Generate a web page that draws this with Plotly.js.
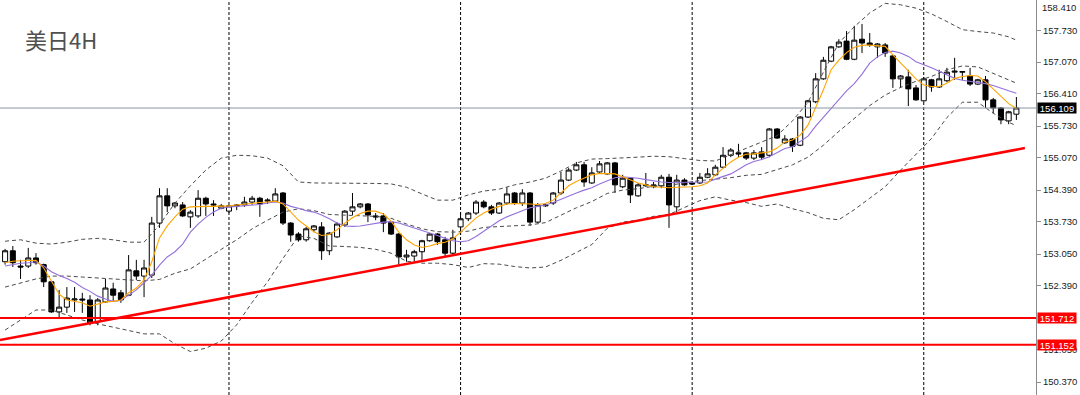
<!DOCTYPE html>
<html>
<head>
<meta charset="utf-8">
<script src="https://cdn.plot.ly/plotly-3.0.1.min.js"></script>
<style>html,body{margin:0;padding:0;background:#fff;}#chart{width:1080px;height:395px;}</style>
</head>
<body>
<div id="chart"></div>
<script>
// ---- Data (USD/JPY, 4H) ----
const openP = [152.89,153.12,152.80,152.80,152.97,152.83,152.47,151.84,151.94,152.09,
152.11,152.09,151.63,152.05,152.32,152.24,152.19,152.70,152.59,152.61,
153.70,154.27,154.06,154.08,153.83,153.85,154.22,154.10,154.01,153.95,
154.08,154.08,154.14,154.22,154.16,154.16,154.33,153.70,153.47,153.35,
153.56,153.62,153.12,153.41,153.66,153.95,154.04,154.10,153.85,153.85,
153.72,153.47,152.99,153.01,153.10,153.33,153.47,153.35,153.07,153.62,
153.79,153.91,154.14,154.04,153.91,154.12,154.33,154.12,154.33,153.72,
154.06,154.12,154.33,154.60,154.81,154.92,154.54,154.77,154.73,154.96,
154.46,154.64,154.27,154.48,154.46,154.48,154.66,154.04,154.60,154.54,
154.54,154.66,154.71,154.87,155.12,155.17,155.17,155.06,155.19,155.12,
155.67,155.38,155.46,155.33,155.92,156.24,156.72,157.09,157.39,157.51,
157.13,157.55,157.47,157.39,157.43,157.20,156.72,156.76,156.53,156.26,
156.70,156.55,156.68,156.86,156.86,156.78,156.61,156.70,156.28,156.11,
155.84,155.98];
const highP = [153.16,153.22,152.93,153.18,153.07,152.85,152.49,152.30,152.36,152.36,
152.24,152.19,152.13,152.53,152.45,152.30,153.03,152.93,152.93,153.83,
154.43,154.43,154.14,154.14,153.97,154.39,154.25,154.18,154.10,154.08,
154.10,154.25,154.27,154.25,154.22,154.43,154.35,153.72,153.51,153.62,
153.66,153.72,153.51,153.72,153.97,154.33,154.12,154.12,153.91,153.91,
153.74,153.49,153.14,153.14,153.35,153.49,153.49,153.41,153.56,153.93,
153.93,154.18,154.18,154.08,154.14,154.45,154.35,154.41,154.35,154.12,
154.12,154.35,154.77,154.85,154.98,154.98,154.87,155.00,154.98,154.98,
154.71,154.66,154.54,154.75,154.56,154.71,154.73,154.71,154.64,154.58,
154.75,154.85,154.92,155.29,155.27,155.36,155.19,155.23,155.29,155.69,
155.69,155.54,155.48,155.94,156.28,156.84,157.18,157.41,157.55,157.72,
157.83,157.87,157.68,157.47,157.47,157.22,156.80,156.91,156.59,156.76,
156.72,156.91,156.95,157.16,156.88,156.95,156.72,156.78,156.32,156.13,
156.05,156.34];
const lowP = [152.83,152.78,152.53,152.76,152.83,152.36,151.82,151.73,151.82,151.84,
151.82,151.56,151.56,152.03,152.05,152.03,152.17,152.51,152.15,152.55,
153.60,153.93,154.01,153.83,153.60,153.81,153.85,153.85,153.99,153.91,
153.97,154.04,154.08,153.83,154.10,154.14,153.66,153.31,153.31,153.31,
153.51,152.93,153.03,153.39,153.62,153.87,154.01,153.72,153.76,153.51,
153.45,152.83,152.89,152.89,152.93,153.31,153.24,152.99,153.03,153.45,
153.74,153.87,154.01,153.87,153.89,154.08,154.08,154.06,153.64,153.70,
154.04,154.08,154.29,154.58,154.79,154.46,154.52,154.73,154.71,154.33,
154.43,154.12,154.25,154.46,154.43,154.43,153.60,153.93,154.48,154.50,
154.52,154.64,154.69,154.85,155.08,155.08,155.02,155.02,155.02,155.08,
155.46,155.36,155.19,155.31,155.90,156.21,156.70,157.07,157.37,157.11,
157.11,157.26,157.39,157.16,157.18,156.53,156.53,156.15,156.26,156.24,
156.45,156.53,156.65,156.70,156.70,156.57,156.59,156.11,156.00,155.77,
155.77,155.86];
const closeP = [153.12,152.87,152.78,152.97,152.87,152.47,151.84,151.94,152.13,152.11,
152.09,151.61,152.09,152.34,152.19,152.09,152.72,152.59,152.76,153.70,
154.27,154.06,154.12,153.85,153.93,154.22,154.10,154.08,154.06,154.06,
154.06,154.14,154.22,154.10,154.18,154.31,153.70,153.45,153.35,153.58,
153.64,153.12,153.49,153.68,153.95,154.04,154.10,153.87,153.83,153.70,
153.47,152.99,153.03,153.10,153.33,153.47,153.31,153.07,153.39,153.79,
153.91,154.14,154.04,153.91,154.12,154.31,154.12,154.33,153.72,154.08,
154.08,154.33,154.60,154.81,154.92,154.56,154.75,154.94,154.96,154.50,
154.64,154.29,154.50,154.50,154.50,154.66,154.08,154.60,154.50,154.52,
154.66,154.73,154.87,155.12,155.23,155.15,155.06,155.17,155.08,155.67,
155.48,155.46,155.31,155.92,156.26,156.72,157.11,157.39,157.49,157.13,
157.53,157.47,157.43,157.45,157.26,156.72,156.78,156.51,156.28,156.72,
156.55,156.72,156.86,156.88,156.87,156.61,156.70,156.28,156.11,155.86,
156.03,156.11];
// fast moving average (orange)
const maFast = [152.87,152.90,152.91,152.92,152.92,152.76,152.47,152.21,152.09,152.06,
152.03,151.96,152.00,152.05,152.06,152.09,152.24,152.34,152.51,152.89,
153.39,153.64,153.83,153.99,154.04,154.05,154.05,154.05,154.05,154.06,
154.08,154.10,154.11,154.13,154.14,154.16,154.10,153.93,153.76,153.64,
153.52,153.44,153.46,153.56,153.70,153.81,153.90,153.95,153.95,153.89,
153.74,153.51,153.35,153.24,153.19,153.22,153.27,153.30,153.37,153.51,
153.66,153.81,153.91,153.99,154.05,154.10,154.11,154.11,154.10,154.09,
154.11,154.18,154.33,154.48,154.57,154.64,154.71,154.74,154.74,154.73,
154.67,154.60,154.54,154.50,154.46,154.45,154.44,154.45,154.45,154.46,
154.48,154.54,154.71,154.85,154.98,155.08,155.14,155.15,155.17,155.19,
155.27,155.40,155.44,155.54,155.75,156.11,156.49,156.91,157.11,157.27,
157.38,157.42,157.43,157.41,157.40,157.22,157.05,156.87,156.72,156.59,
156.56,156.56,156.63,156.73,156.77,156.79,156.78,156.66,156.50,156.36,
156.20,156.10];
// slow moving average (purple)
const maSlow = [152.80,152.83,152.86,152.87,152.89,152.80,152.68,152.60,152.54,152.46,
152.35,152.27,152.17,152.11,152.06,152.08,152.19,152.30,152.45,152.61,
152.82,152.99,153.10,153.26,153.51,153.68,153.82,153.93,154.01,154.04,
154.05,154.06,154.07,154.09,154.12,154.14,154.12,154.05,154.01,153.96,
153.93,153.87,153.79,153.70,153.64,153.63,153.64,153.67,153.70,153.72,
153.73,153.70,153.65,153.60,153.54,153.49,153.44,153.38,153.33,153.31,
153.33,153.42,153.53,153.64,153.75,153.83,153.89,153.96,154.02,154.05,
154.08,154.13,154.20,154.27,154.33,154.39,154.44,154.52,154.59,154.65,
154.67,154.66,154.64,154.61,154.58,154.56,154.55,154.55,154.55,154.55,
154.55,154.56,154.62,154.67,154.73,154.82,154.92,154.99,155.03,155.09,
155.18,155.26,155.30,155.41,155.52,155.73,155.92,156.10,156.30,156.47,
156.62,156.82,157.05,157.18,157.27,157.30,157.26,157.19,157.08,157.02,
156.95,156.88,156.80,156.73,156.69,156.67,156.64,156.62,156.58,156.52,
156.47,156.42];
// Bollinger bands, read every second bar
const bandBars = [0,2,4,6,8,10,12,14,16,18,20,22,24,26,28,30,32,34,36,38,40,42,44,46,48,50,52,54,56,58,
60,62,64,66,68,70,72,74,76,78,80,82,84,86,88,90,92,94,96,98,100,102,104,106,108,110,112,114,116,118,
120,122,124,126,128,130,131];
const bbUpper = [153.32,153.35,153.28,153.26,153.30,153.36,153.38,153.35,153.30,153.30,
153.66,154.12,154.48,154.81,155.06,155.12,155.11,155.06,154.90,154.56,
154.54,154.54,154.54,154.54,154.53,154.52,154.45,154.31,154.18,154.18,
154.29,154.37,154.41,154.50,154.56,154.64,154.79,154.96,155.04,155.05,
155.06,155.08,155.10,155.09,155.05,155.01,155.00,155.13,155.27,155.39,
155.53,155.84,156.23,156.86,157.47,157.81,158.10,158.30,158.27,158.20,
158.08,157.92,157.75,157.71,157.68,157.60,157.53];
const bbMiddle = [152.36,152.45,152.53,152.59,152.59,152.57,152.55,152.53,152.51,152.49,
152.52,152.65,152.74,152.95,153.15,153.35,153.58,153.76,153.93,154.00,
153.96,153.88,153.87,153.86,153.84,153.80,153.68,153.58,153.52,153.51,
153.53,153.61,153.63,153.64,153.66,153.71,153.86,154.02,154.15,154.32,
154.39,154.42,154.47,154.49,154.54,154.59,154.62,154.65,154.70,154.72,
154.82,154.92,155.08,155.33,155.62,155.89,156.16,156.38,156.54,156.67,
156.77,156.91,156.99,156.97,156.84,156.70,156.63];
const bbLower = [151.46,151.67,151.88,151.88,151.78,151.67,151.59,151.52,151.46,151.38,
151.38,151.17,151.01,151.08,151.23,151.57,152.04,152.47,152.96,153.43,
153.38,153.22,153.21,153.19,153.15,153.07,152.90,152.86,152.86,152.83,
152.77,152.85,152.84,152.79,152.76,152.78,152.92,153.09,153.25,153.59,
153.72,153.76,153.84,153.88,154.03,154.17,154.25,154.18,154.13,154.05,
154.10,154.00,153.92,153.80,153.77,153.98,154.22,154.46,154.81,155.13,
155.47,155.91,156.23,156.23,156.00,155.81,155.74];
// week separators (bar numbers)
const weekBars = [29, 59, 89, 119];
// trend line anchors (bar, price)
const trendBars = [-0.66, 132.1];
const trendPrices = [151.25, 155.27];
// horizontal levels
const levels = [151.712, 151.152];
const lastPrice = 156.109;
// price scale labels
const tickValues = [157.73,157.07,156.41,155.73,155.07,154.39,153.73,153.05,152.39,151.05,150.37];
const tickLabels = ['157.730','157.070','156.410','155.730','155.070','154.390','153.730','153.050','152.390','151.050','150.370'];
const topLabelText = '158.410';
const titleText = '美日4H';

// ---- Build chart ----
const bars = openP.map((_, i) => i);
const traces = [
  {
    type: 'candlestick', x: bars, open: openP, high: highP, low: lowP, close: closeP,
    increasing: {line: {color: '#000000', width: 1}, fillcolor: '#ffffff'},
    decreasing: {line: {color: '#000000', width: 1}, fillcolor: '#000000'},
    whiskerwidth: 0, hoverinfo: 'skip'
  }
];
const bandStyle = {color: '#4a4a4a', width: 1, dash: '4px,3px'};
[bbUpper, bbMiddle, bbLower].forEach(b => traces.push({
  type: 'scatter', mode: 'lines', x: bandBars, y: b, line: bandStyle, hoverinfo: 'skip'
}));
traces.push({type: 'scatter', mode: 'lines', x: bars, y: maSlow, line: {color: '#9370db', width: 1.1}, hoverinfo: 'skip'});
traces.push({type: 'scatter', mode: 'lines', x: bars, y: maFast, line: {color: '#ffa500', width: 1.1}, hoverinfo: 'skip'});

const shapes = [];
weekBars.forEach(b => shapes.push({
  type: 'line', xref: 'x', yref: 'paper', x0: b, x1: b, y0: 0, y1: 1,
  line: {color: '#000000', width: 1, dash: '3px,2px'}, layer: 'below'
}));
shapes.push({type: 'line', xref: 'paper', yref: 'y', x0: 0, x1: 1, y0: lastPrice, y1: lastPrice,
  line: {color: '#8a96a2', width: 1}, layer: 'above'});
levels.forEach(v => shapes.push({
  type: 'line', xref: 'paper', yref: 'y', x0: 0, x1: 1, y0: v, y1: v,
  line: {color: '#ff0000', width: 2}, layer: 'above'
}));
shapes.push({type: 'line', xref: 'x', yref: 'y', x0: trendBars[0], x1: trendBars[1], y0: trendPrices[0], y1: trendPrices[1],
  line: {color: '#ff0000', width: 2.5}, layer: 'above'});

const labelFont = {family: 'Liberation Sans, Arial, sans-serif', size: 9.5, color: '#ffffff'};
const annotations = [
  {text: titleText, xref: 'paper', yref: 'paper', x: 0, y: 0.9013, xanchor: 'left', yanchor: 'middle',
   xshift: 23, showarrow: false, font: {family: 'Noto Sans CJK SC, sans-serif', size: 22, color: '#505050'}},
  {text: lastPrice.toFixed(3), xref: 'paper', yref: 'y', x: 1, y: lastPrice, xanchor: 'left', yanchor: 'middle',
   xshift: 1, showarrow: false, bgcolor: '#000000', borderpad: 0, width: 38, height: 10, font: labelFont},
  {text: topLabelText, xref: 'paper', yref: 'paper', x: 1, y: 1, xanchor: 'left', yanchor: 'top',
   xshift: 4, yshift: 0, showarrow: false, font: {family: 'Liberation Sans, Arial, sans-serif', size: 9.5, color: '#1a1a1a'}}
];
levels.forEach(v => annotations.push({
  text: v.toFixed(3), xref: 'paper', yref: 'y', x: 1, y: v, xanchor: 'left', yanchor: 'middle',
  xshift: 1, showarrow: false, bgcolor: '#ff0000', borderpad: 0, width: 38, height: 10, font: labelFont
}));

const layout = {
  width: 1080, height: 395,
  margin: {l: 0, r: 44, t: 0, b: 0, pad: 0},
  paper_bgcolor: '#ffffff', plot_bgcolor: '#ffffff',
  showlegend: false,
  boxgap: 0.35, boxgroupgap: 0,
  font: {family: 'Liberation Sans, Arial, sans-serif'},
  xaxis: {range: [-0.661, 133.54], showgrid: false, zeroline: false, showticklabels: false,
          ticks: '', showline: false, rangeslider: {visible: false}, fixedrange: true},
  yaxis: {side: 'right', range: [150.100, 158.371], tickmode: 'array', tickvals: tickValues, ticktext: tickLabels,
          showgrid: false, zeroline: false, showline: true, linecolor: '#8c8c8c', linewidth: 1,
          ticks: 'outside', ticklen: 4, tickcolor: '#8c8c8c',
          tickfont: {family: 'Liberation Sans, Arial, sans-serif', size: 9.5, color: '#1a1a1a'}, fixedrange: true},
  shapes: shapes,
  annotations: annotations
};
Plotly.newPlot('chart', traces, layout, {displayModeBar: false, staticPlot: true});
</script>
</body>
</html>
